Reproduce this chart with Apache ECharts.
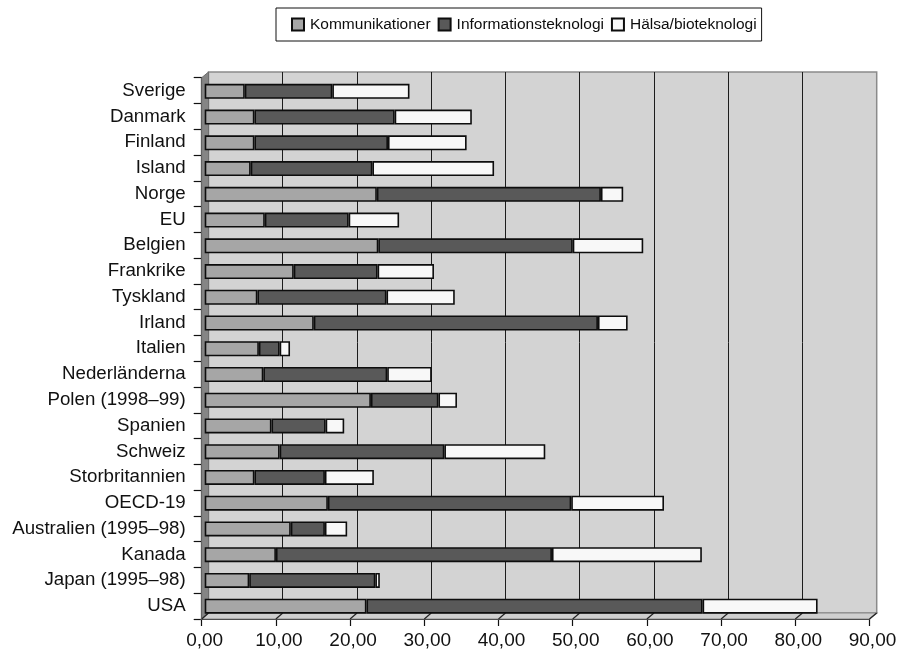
<!DOCTYPE html>
<html>
<head>
<meta charset="utf-8">
<script src="https://cdn.jsdelivr.net/npm/echarts@6/dist/echarts.min.js"></script>
<style>
  html, body { margin: 0; padding: 0; background: #ffffff; }
  #chart { width: 901px; height: 652px; }
</style>
</head>
<body>
<div id="chart"></div>
<script>
// Länder/regioner, uppifrån och ned
const categories = [
  'Sverige', 'Danmark', 'Finland', 'Island', 'Norge', 'EU', 'Belgien',
  'Frankrike', 'Tyskland', 'Irland', 'Italien', 'Nederländerna',
  'Polen (1998–99)', 'Spanien', 'Schweiz', 'Storbritannien', 'OECD-19',
  'Australien (1995–98)', 'Kanada', 'Japan (1995–98)', 'USA'
];

const seriesNames = ['Kommunikationer', 'Informationsteknologi', 'Hälsa/bioteknologi'];

const kommunikationer = [
  5.4, 6.7, 6.7, 6.2, 23.2, 8.1, 23.4,
  12.0, 7.1, 14.7, 7.3, 7.9,
  22.4, 9.0, 10.1, 6.7, 16.6,
  11.6, 9.6, 6.0, 21.8
];

const informationsteknologi = [
  11.8, 18.9, 18.0, 16.4, 30.2, 11.3, 26.2,
  11.3, 17.4, 38.3, 2.8, 16.7,
  9.1, 7.3, 22.2, 9.5, 32.8,
  4.6, 37.2, 17.0, 45.3
];

const halsaBioteknologi = [
  10.4, 10.4, 10.6, 16.4, 3.0, 6.8, 9.5,
  7.6, 9.2, 4.0, 1.4, 6.0,
  2.5, 2.5, 13.6, 6.6, 12.5,
  3.0, 20.2, 0.6, 15.5
];

const xTickValues = [0, 10, 20, 30, 40, 50, 60, 70, 80, 90];
const xTickLabels = ['0,00', '10,00', '20,00', '30,00', '40,00', '50,00', '60,00', '70,00', '80,00', '90,00'];

// Layout of the pseudo-3D plot: back wall, bar plane and front axes
const WALL = { left: 208.5, top: 72, width: 668.2, height: 541 };
const BARS = { left: 204.7, top: 78.5, width: 667.8, height: 540.5 };
const FRONT = { left: 201.7, top: 77.7, width: 667.8, height: 541.3 };

const FONT = 'Liberation Sans';
const colors = ['#a6a6a6', '#595959', '#f8f8f8'];

const chart = echarts.init(document.getElementById('chart'), null, { renderer: 'canvas' });

const xMax = xTickValues[xTickValues.length - 1];
const xInterval = xTickValues[1] - xTickValues[0];

function barSeries(name, data, color) {
  return {
    name: name,
    type: 'bar',
    stack: 'total',
    xAxisIndex: 1,
    yAxisIndex: 1,
    barWidth: 15,
    data: data,
    itemStyle: { color: color, borderColor: '#0d0d0d', borderWidth: 1.6 },
    emphasis: { disabled: true },
    z: 3
  };
}

chart.setOption({
  animation: false,
  backgroundColor: '#ffffff',
  textStyle: { fontFamily: FONT },
  legend: {
    data: seriesNames,
    left: 276,
    top: 8,
    orient: 'horizontal',
    icon: 'rect',
    itemWidth: 12,
    itemHeight: 12,
    itemGap: 7,
    borderColor: '#111111',
    borderWidth: 1,
    padding: [8, 5, 8, 15],
    textStyle: { fontFamily: FONT, fontSize: 15.5, color: '#0d0d0d', lineHeight: 17, padding: [0, 0, 0, 1] }
  },
  grid: [
    { left: WALL.left, top: WALL.top, width: WALL.width, height: WALL.height,
      show: true, backgroundColor: '#d3d3d3', borderColor: '#8a8a8a', borderWidth: 1.5, z: 0 },
    { left: BARS.left, top: BARS.top, width: BARS.width, height: BARS.height, z: 2 },
    { left: FRONT.left, top: FRONT.top, width: FRONT.width, height: FRONT.height, z: 2 }
  ],
  xAxis: [
    {
      gridIndex: 0, type: 'value', min: 0, max: xMax, interval: xInterval,
      axisLine: { show: false }, axisTick: { show: false }, axisLabel: { show: false },
      splitLine: { show: true, showMinLine: false, showMaxLine: false,
        lineStyle: { color: '#1c1c1c', width: 1 } }
    },
    {
      gridIndex: 1, type: 'value', min: 0, max: xMax, interval: xInterval, show: false,
      splitLine: { show: false }
    },
    {
      gridIndex: 2, type: 'value', min: 0, max: xMax, interval: xInterval,
      axisLine: { show: true, lineStyle: { color: '#111111', width: 1.2 } },
      axisTick: { show: true, length: 7, lineStyle: { color: '#111111', width: 1.2 } },
      splitLine: { show: false },
      axisLabel: {
        show: true, margin: 12, fontFamily: FONT, fontSize: 19, color: '#111111',
        padding: [0, 0, 0, 6],
        formatter: function (v) {
          const i = xTickValues.indexOf(v);
          return i >= 0 ? xTickLabels[i] : '';
        }
      }
    }
  ],
  yAxis: [
    { gridIndex: 0, type: 'value', min: 0, max: 1, show: false, splitLine: { show: false } },
    { gridIndex: 1, type: 'category', data: categories, inverse: true, show: false },
    {
      gridIndex: 2, type: 'category', data: categories, inverse: true,
      axisLine: { show: true, lineStyle: { color: '#111111', width: 1.2 } },
      axisTick: { show: true, length: 8, lineStyle: { color: '#111111', width: 1.2 } },
      splitLine: { show: false },
      axisLabel: { margin: 16, fontFamily: FONT, fontSize: 18.7, color: '#111111' }
    }
  ],
  series: [
    barSeries(seriesNames[0], kommunikationer, colors[0]),
    barSeries(seriesNames[1], informationsteknologi, colors[1]),
    barSeries(seriesNames[2], halsaBioteknologi, colors[2])
  ]
});

// Side wall, floor and slanted floor ticks, placed through the axes' own scales
const wallRight = WALL.left + WALL.width;
const wallBottom = WALL.top + WALL.height;
const frontRight = FRONT.left + FRONT.width;
const frontBottom = FRONT.top + FRONT.height;

const decorations = [
  {
    type: 'polygon', z: 1, silent: true,
    shape: { points: [[FRONT.left, FRONT.top], [WALL.left, WALL.top], [WALL.left, wallBottom], [FRONT.left, frontBottom]] },
    style: { fill: '#858585', stroke: '#6e6e6e', lineWidth: 1 }
  },
  {
    type: 'polygon', z: 1, silent: true,
    shape: { points: [[FRONT.left, frontBottom], [WALL.left, wallBottom], [wallRight, wallBottom], [frontRight, frontBottom]] },
    style: { fill: '#cfcfcf', stroke: '#8a8a8a', lineWidth: 1.2 }
  }
];

xTickValues.forEach(function (v) {
  const xf = chart.convertToPixel({ xAxisIndex: 2 }, v);
  const xb = chart.convertToPixel({ xAxisIndex: 0 }, v);
  decorations.push({
    type: 'line', z: 1, silent: true,
    shape: { x1: xf, y1: frontBottom, x2: xb, y2: wallBottom },
    style: { stroke: '#222222', lineWidth: 1.2 }
  });
});

chart.setOption({ graphic: decorations });
</script>
</body>
</html>
